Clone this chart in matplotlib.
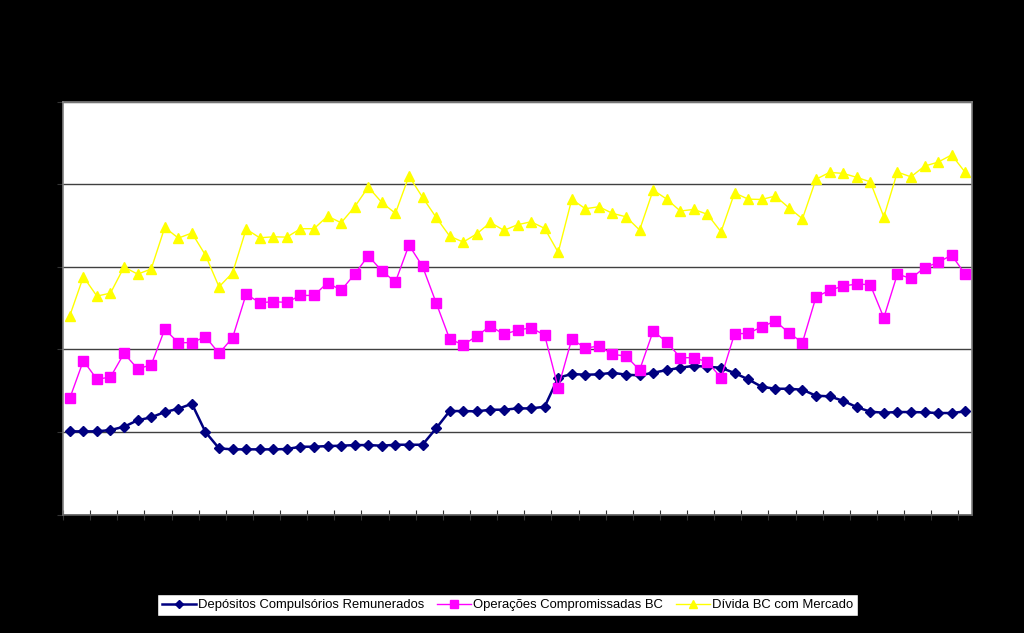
import matplotlib
matplotlib.use("Agg")
import matplotlib.pyplot as plt
import numpy as np

plt.rcParams['font.family'] = ['Liberation Sans', 'DejaVu Sans']

series_names = ["Depósitos Compulsórios Remunerados",
                "Operações Compromissadas BC",
                "Dívida BC com Mercado"]

depositos = [5.04, 5.04, 5.04, 5.12, 5.32, 5.71, 5.89, 6.21, 6.41, 6.71,
             5.00, 4.01, 3.95, 3.95, 3.95, 3.95, 3.97, 4.11, 4.11, 4.15,
             4.17, 4.21, 4.21, 4.17, 4.23, 4.23, 4.23, 5.22, 6.27, 6.27,
             6.25, 6.35, 6.35, 6.43, 6.43, 6.53, 8.29, 8.51, 8.47, 8.49,
             8.59, 8.47, 8.43, 8.59, 8.75, 8.89, 9.01, 8.95, 8.89, 8.57,
             8.19, 7.74, 7.62, 7.62, 7.56, 7.20, 7.16, 6.89, 6.51, 6.23,
             6.17, 6.21, 6.21, 6.19, 6.15, 6.15, 6.25]

compromissadas = [7.04, 9.32, 8.19, 8.33, 9.76, 8.83, 9.06, 11.22, 10.41, 10.41,
                  10.77, 9.76, 10.71, 13.35, 12.83, 12.89, 12.85, 13.27, 13.27, 14.04,
                  13.58, 14.56, 15.67, 14.76, 14.08, 16.32, 15.03, 12.83, 10.63, 10.28,
                  10.81, 11.42, 10.91, 11.17, 11.31, 10.87, 7.68, 10.63, 10.08, 10.21,
                  9.70, 9.60, 8.75, 11.11, 10.45, 9.50, 9.50, 9.24, 8.29, 10.95,
                  10.97, 11.37, 11.72, 11.01, 10.41, 13.17, 13.58, 13.84, 13.96, 13.92,
                  11.92, 14.56, 14.30, 14.95, 15.27, 15.71, 14.55]

divida = [12.04, 14.40, 13.23, 13.41, 14.99, 14.56, 14.87, 17.39, 16.74, 17.05,
          15.71, 13.79, 14.64, 17.29, 16.76, 16.82, 16.80, 17.31, 17.31, 18.07,
          17.67, 18.64, 19.83, 18.90, 18.24, 20.50, 19.21, 18.00, 16.86, 16.50,
          17.00, 17.69, 17.21, 17.55, 17.73, 17.33, 15.88, 19.09, 18.52, 18.64,
          18.24, 18.03, 17.23, 19.65, 19.10, 18.38, 18.48, 18.18, 17.12, 19.48,
          19.10, 19.08, 19.29, 18.58, 17.91, 20.30, 20.72, 20.66, 20.42, 20.15,
          18.03, 20.74, 20.45, 21.10, 21.34, 21.78, 20.72]

n = len(divida)
x = np.arange(n) + 0.5

fig = plt.figure(figsize=(10.24, 6.33), dpi=100, facecolor='black')
ax = fig.add_axes([63/1024, 1-514.6/633, (972-63)/1024, (514.6-101.7)/633])
ax.set_facecolor('white')

ax.plot(x, depositos, color='#000080', lw=1.8, marker='D', ms=5.5,
        label=series_names[0], zorder=3)
ax.plot(x, compromissadas, color='#FF00FF', lw=1.0, marker='s', ms=7,
        label=series_names[1], zorder=3)
ax.plot(x, divida, color='#FFFF00', lw=1.0, marker='^', ms=7,
        label=series_names[2], zorder=3)

ax.set_xlim(0, n)
ax.set_ylim(0, 25)
ax.set_yticks([0, 5, 10, 15, 20, 25])
ax.set_xticks(np.arange(0, n + 1, 2))
ax.yaxis.grid(True, color='#404040', lw=1.0)
ax.set_axisbelow(True)
ax.tick_params(axis='x', direction='inout', length=7, color='#333333',
               labelbottom=False)
ax.tick_params(axis='y', direction='out', length=4, color='#333333',
               labelleft=False)
for side in ['left', 'top', 'right']:
    ax.spines[side].set_color('#808080')
    ax.spines[side].set_linewidth(1.2)
ax.spines['bottom'].set_color('#606060')
ax.spines['bottom'].set_linewidth(1.2)

leg = fig.legend(loc='center', bbox_to_anchor=(507.5/1024, 1-605/633),
                 ncol=3, frameon=True, fancybox=False, fontsize=9.4,
                 handlelength=2.6, handletextpad=0.15, columnspacing=1.0,
                 borderpad=0.4, borderaxespad=0, edgecolor='black',
                 facecolor='white', framealpha=1.0, markerscale=0.8)
leg.get_frame().set_linewidth(1.0)
for t in leg.get_texts():
    t.set_color('black')

fig.savefig('out.png', dpi=100, facecolor='black')
